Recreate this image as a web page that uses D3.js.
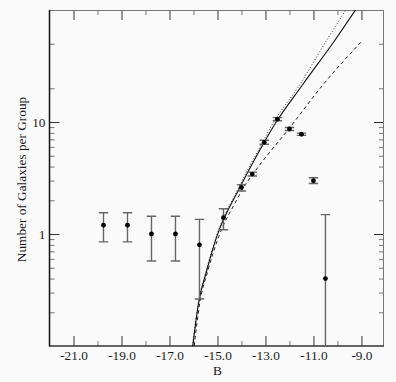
<!DOCTYPE html>
<html>
<head>
<meta charset="utf-8">
<script src="https://cdn.jsdelivr.net/npm/d3@7"></script>
<style>
  html, body { margin: 0; padding: 0; background: #fafafa; }
  svg { display: block; }
  svg text { font-family: "Liberation Serif", "Times New Roman", Times, serif !important; fill: #1a1a1a; }
</style>
</head>
<body>
<svg id="chart" width="396" height="382"></svg>
<script>
// ---- data ----
const pointB   = [-19.75, -18.75, -17.75, -16.75, -15.75, -14.75, -14.0, -13.55, -13.05, -12.5, -12.0, -11.5, -11.0, -10.5];
const pointN   = [1.20, 1.20, 1.00, 1.00, 0.80, 1.40, 2.61, 3.43, 6.59, 10.6, 8.66, 7.77, 2.99, 0.40];
const pointHi  = [1.55, 1.55, 1.44, 1.44, 1.35, 1.68, 2.76, 3.57, 6.87, 10.95, 8.93, 7.95, 3.18, 1.49];
const pointLo  = [0.85, 0.85, 0.574, 0.574, 0.263, 1.09, 2.42, 3.29, 6.32, 10.25, 8.40, 7.60, 2.82, 0.05];

const solidB   = [-16.03, -15.79, -15.44, -15.03, -14.05, -13.05, -12.63, -11.46, -10.10, -9.25];
const solidN   = [0.10, 0.24, 0.477, 0.946, 2.64, 6.6, 9.4, 21.4, 54.0, 100];
const dottedB  = [-16.04, -15.80, -15.46, -15.05, -14.10, -13.12, -12.73, -11.58, -10.44, -9.65];
const dottedN  = [0.10, 0.24, 0.477, 0.946, 2.64, 6.6, 9.4, 21.4, 54.0, 100];
const dashedB  = [-15.97, -15.74, -15.39, -14.95, -14.20, -13.91, -13.53, -11.90, -10.61, -9.03];
const dashedN  = [0.10, 0.24, 0.477, 0.946, 2.01, 2.61, 3.41, 9.40, 21.4, 51.4];

const xMajor = [-21, -19, -17, -15, -13, -11, -9];
const xMinor = [-20, -18, -16, -14, -12, -10];
const yLabeled = [1, 10];
const yMinor = [0.2, 0.3, 0.4, 0.5, 0.6, 0.7, 0.8, 0.9, 2, 3, 4, 5, 6, 7, 8, 9, 20, 50];
const xTitle = "B";
const yTitle = "Number of Galaxies per Group";

// ---- layout ----
const L = 49.5, R = 384, T = 10, B = 346;
const FONT = "'Liberation Serif', 'Times New Roman', Times, serif";
const svg = d3.select("#chart");
const x = d3.scaleLinear().domain([-22, -8.06]).range([L, R]);
const y = d3.scaleLog().domain([0.1, 100]).range([B, T]);

svg.append("defs").append("clipPath").attr("id", "plotclip")
  .append("rect").attr("x", L).attr("y", T).attr("width", R - L).attr("height", B - T);

const FS = "13.3px";
function styleAxis(g, col) {
  g.attr("font-family", FONT);
  g.select(".domain").remove();
  g.selectAll(".tick line").attr("stroke", col).attr("stroke-width", 1);
  g.selectAll(".tick text").attr("font-size", FS).style("font-family", FONT);
}

// bottom axis
svg.append("g").attr("transform", `translate(0,${B})`)
  .call(d3.axisBottom(x).tickValues(xMajor).tickFormat(d => d.toFixed(1)).tickSize(-10).tickPadding(4.5))
  .call(g => styleAxis(g, "#333"));
svg.append("g").attr("transform", `translate(0,${B})`)
  .call(d3.axisBottom(x).tickValues(xMinor).tickFormat("").tickSize(-5))
  .call(g => styleAxis(g, "#777"));
// top axis
svg.append("g").attr("transform", `translate(0,${T})`)
  .call(d3.axisTop(x).tickValues(xMajor).tickFormat("").tickSize(-10))
  .call(g => styleAxis(g, "#333"));
svg.append("g").attr("transform", `translate(0,${T})`)
  .call(d3.axisTop(x).tickValues(xMinor).tickFormat("").tickSize(-5))
  .call(g => styleAxis(g, "#777"));
// left axis
svg.append("g").attr("transform", `translate(${L},0)`)
  .call(d3.axisLeft(y).tickValues(yLabeled).tickFormat(d3.format("d")).tickSize(-10).tickPadding(4))
  .call(g => styleAxis(g, "#333"));
svg.append("g").attr("transform", `translate(${L},0)`)
  .call(d3.axisLeft(y).tickValues(yMinor).tickFormat("").tickSize(-5))
  .call(g => styleAxis(g, "#777"));
// right axis
svg.append("g").attr("transform", `translate(${R},0)`)
  .call(d3.axisRight(y).tickValues(yLabeled).tickFormat("").tickSize(-10))
  .call(g => styleAxis(g, "#333"));
svg.append("g").attr("transform", `translate(${R},0)`)
  .call(d3.axisRight(y).tickValues(yMinor).tickFormat("").tickSize(-5))
  .call(g => styleAxis(g, "#777"));

// frame
svg.append("line").attr("x1", L).attr("x2", R).attr("y1", T + 0.5).attr("y2", T + 0.5).attr("stroke", "#777");
svg.append("line").attr("x1", R - 0.5).attr("x2", R - 0.5).attr("y1", T).attr("y2", B).attr("stroke", "#777");
svg.append("line").attr("x1", L).attr("x2", L).attr("y1", T).attr("y2", B + 0.5).attr("stroke", "#111").attr("stroke-width", 1.5);
svg.append("line").attr("x1", L).attr("x2", R).attr("y1", B).attr("y2", B).attr("stroke", "#333").attr("stroke-width", 1.3);

// titles
svg.append("text").attr("x", 217.5).attr("y", 374.5).attr("text-anchor", "middle")
  .attr("font-size", FS).style("font-family", FONT).text(xTitle);
svg.append("text").attr("transform", "translate(25.5,179.5) rotate(-90)").attr("text-anchor", "middle")
  .attr("font-size", FS).style("font-family", FONT).text(yTitle);

// curves
const plot = svg.append("g").attr("clip-path", "url(#plotclip)");
const line = d3.line().x(d => x(d[0])).y(d => y(d[1])).curve(d3.curveMonotoneX);
plot.append("path").datum(d3.zip(dottedB, dottedN)).attr("d", line)
  .attr("fill", "none").attr("stroke", "#333").attr("stroke-width", 1).attr("stroke-dasharray", "1,2");
plot.append("path").datum(d3.zip(solidB, solidN)).attr("d", line)
  .attr("fill", "none").attr("stroke", "#111").attr("stroke-width", 1.1);
plot.append("path").datum(d3.zip(dashedB, dashedN)).attr("d", line)
  .attr("fill", "none").attr("stroke", "#222").attr("stroke-width", 1).attr("stroke-dasharray", "3.5,3");

// error bars + points
const pts = pointB.map((b, i) => ({ b, n: pointN[i], hi: pointHi[i], lo: pointLo[i] }));
const eb = plot.append("g").attr("stroke", "#666").attr("stroke-width", 1.4);
eb.selectAll("line.v").data(pts).join("line").attr("class", "v")
  .attr("x1", d => x(d.b)).attr("x2", d => x(d.b))
  .attr("y1", d => y(d.hi)).attr("y2", d => y(d.lo));
eb.selectAll("line.t").data(pts).join("line").attr("class", "t")
  .attr("x1", d => x(d.b) - 4.7).attr("x2", d => x(d.b) + 4.7)
  .attr("y1", d => y(d.hi)).attr("y2", d => y(d.hi));
eb.selectAll("line.b").data(pts).join("line").attr("class", "b")
  .attr("x1", d => x(d.b) - 4.7).attr("x2", d => x(d.b) + 4.7)
  .attr("y1", d => y(d.lo)).attr("y2", d => y(d.lo));
plot.append("g").selectAll("circle").data(pts).join("circle")
  .attr("cx", d => x(d.b)).attr("cy", d => y(d.n)).attr("r", 2.4).attr("fill", "#000");
</script>
</body>
</html>
